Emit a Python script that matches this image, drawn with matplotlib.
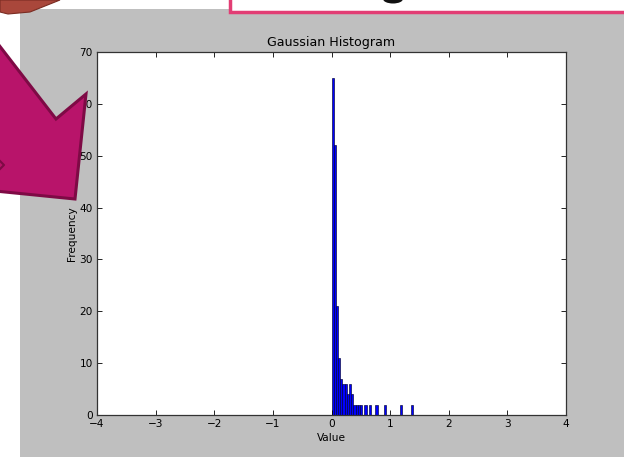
import numpy as np
import matplotlib
matplotlib.use("Agg")
import matplotlib.pyplot as plt
from matplotlib.patches import Rectangle, Polygon, Ellipse

# histogram: equal-width bins starting at 0
bin_start = 0.0
bin_width = 0.0375
counts = [65, 52, 21, 11, 7, 6, 6, 4, 6, 4,
          2, 2, 2, 2, 0, 2, 0, 2, 0, 0,
          2, 0, 0, 0, 2, 0, 0, 0, 0, 0,
          0, 2, 0, 0, 0, 0, 2]

x_ticks = [-4, -3, -2, -1, 0, 1, 2, 3, 4]
y_ticks = [0, 10, 20, 30, 40, 50, 60, 70]
title = "Gaussian Histogram"
x_label = "Value"
y_label = "Frequency"

W, H = 624, 457


def px(x, y):
    # screenshot pixel -> figure fraction
    return (x / W, 1 - y / H)


fig = plt.figure(figsize=(W / 100, H / 100), dpi=100, facecolor="white")

# grey figure background of the screenshot
fig.add_artist(Rectangle(px(20, H), (W - 20) / W, (H - 9) / H,
                         transform=fig.transFigure, facecolor="#bfbfbf",
                         edgecolor="none", zorder=-5))

ax = fig.add_axes([97 / W, 1 - 415 / H, (566 - 97) / W, (415 - 52) / H])
ax.set_facecolor("white")

edges = bin_start + bin_width * np.arange(len(counts) + 1)
centers = (edges[:-1] + edges[1:]) / 2
ax.hist(centers, bins=edges, weights=counts, facecolor="#0000ff",
        edgecolor="#000033", linewidth=0.45)

ax.set_xlim(-4, 4)
ax.set_ylim(0, 70)
ax.set_xticks(x_ticks)
ax.set_yticks(y_ticks)
ax.tick_params(direction="in", length=3.5, width=0.6, labelsize=7.6,
               top=True, right=True, pad=3, colors="black")
for s in ax.spines.values():
    s.set_linewidth(0.9)
    s.set_color("#333333")
ax.set_title(title, fontsize=9.1, pad=4)
ax.set_xlabel(x_label, fontsize=7.6, labelpad=3)
ax.set_ylabel(y_label, fontsize=7.6, labelpad=2)

# overlays on the screenshot: magenta arrow, pink box, brown shape
arrow = [px(-5, 40), px(56, 119), px(86, 94), px(75, 199), px(-5, 191)]
fig.add_artist(Polygon(arrow, closed=True, transform=fig.transFigure,
                       facecolor="#b8146a", edgecolor="#7e0a45",
                       linewidth=2.2, zorder=10))
fig.add_artist(plt.Line2D([0, 4 / W, 0], [1 - 161 / H, 1 - 165 / H, 1 - 169 / H],
                          transform=fig.transFigure, color="#7e0a45",
                          linewidth=1.5, zorder=11))
fig.add_artist(Rectangle(px(230, 12), (W - 230 + 5) / W, 20 / H,
                         transform=fig.transFigure, facecolor="white",
                         edgecolor="#e23d74", linewidth=2.5, zorder=9))
fig.add_artist(Ellipse(px(393, -1), 20 / W, 9 / H, transform=fig.transFigure,
                       facecolor="#111111", edgecolor="none", zorder=11))
brown = [px(0, 0), px(60, 0), px(30, 12), px(8, 14), px(0, 12)]
fig.add_artist(Polygon(brown, closed=True, transform=fig.transFigure,
                       facecolor="#a9473b", edgecolor="#7a2c22",
                       linewidth=0.8, zorder=10))

fig.savefig("out.png", dpi=100, facecolor=fig.get_facecolor())
